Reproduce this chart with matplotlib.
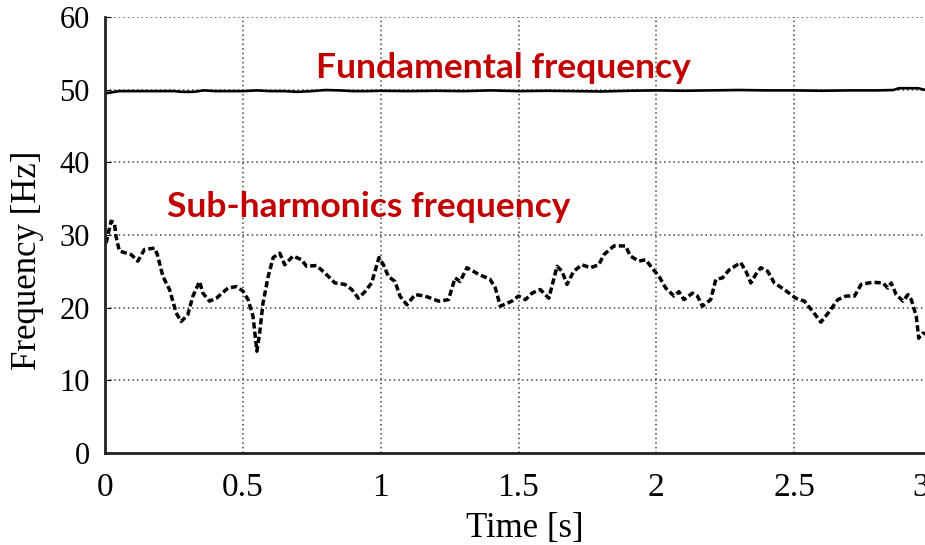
import numpy as np
import matplotlib
matplotlib.use('Agg')
import matplotlib.pyplot as plt
import matplotlib.transforms as mtransforms

# sub-harmonic frequency
sub_t = [0.004, 0.022, 0.034, 0.04, 0.052, 0.095, 0.119, 0.143, 0.18, 0.19,
         0.21, 0.234, 0.258, 0.276, 0.3, 0.319, 0.343, 0.355, 0.379, 0.404,
         0.446, 0.476, 0.5, 0.519, 0.537, 0.551, 0.561, 0.573, 0.592, 0.61,
         0.634, 0.652, 0.682, 0.713, 0.731, 0.767, 0.797, 0.834, 0.87, 0.895,
         0.919, 0.943, 0.967, 0.994, 1.01, 1.028, 1.052, 1.07, 1.095, 1.125,
         1.161, 1.21, 1.246, 1.27, 1.288, 1.313, 1.355, 1.397, 1.416, 1.434,
         1.476, 1.5, 1.525, 1.549, 1.579, 1.61, 1.64, 1.658, 1.676, 1.70,
         1.73, 1.761, 1.791, 1.81, 1.846, 1.888, 1.906, 1.937, 1.961, 1.99,
         2.01, 2.034, 2.064, 2.082, 2.10, 2.131, 2.149, 2.167, 2.197, 2.216,
         2.24, 2.264, 2.306, 2.325, 2.343, 2.361, 2.379, 2.404, 2.428, 2.464,
         2.506, 2.537, 2.567, 2.597, 2.628, 2.658, 2.688, 2.719, 2.743, 2.785,
         2.822, 2.84, 2.852, 2.87, 2.895, 2.913, 2.925, 2.943, 2.952, 2.967,
         2.985]
sub_f = [28.9, 31.9, 31.7, 29.8, 27.8, 27.3, 26.4, 28.0, 28.2, 27.3,
         24.3, 22.5, 19.3, 18.1, 19.0, 21.6, 23.6, 22.0, 20.9, 21.3,
         22.7, 22.9, 22.3, 21.1, 18.8, 14.0, 16.5, 20.6, 24.3, 26.9,
         27.5, 25.9, 27.1, 26.6, 25.7, 25.8, 24.8, 23.4, 23.2, 22.5,
         21.3, 22.2, 23.4, 26.9, 25.9, 24.3, 23.6, 21.6, 20.4, 21.8,
         21.6, 20.9, 21.1, 24.1, 23.6, 25.5, 24.6, 23.9, 22.7, 20.2,
         20.9, 21.6, 21.1, 22.0, 22.5, 21.3, 25.7, 25.0, 23.2, 25.0,
         25.9, 25.5, 25.9, 27.3, 28.5, 28.5, 27.1, 26.4, 26.6, 25.2,
         24.3, 22.7, 21.6, 22.2, 21.1, 22.0, 21.6, 20.2, 21.1, 23.9,
         24.1, 25.2, 26.2, 25.0, 23.4, 24.6, 25.5, 25.0, 23.4, 22.5,
         21.3, 20.9, 19.5, 18.0, 19.5, 21.1, 21.6, 21.6, 23.2, 23.5,
         23.4, 22.7, 23.4, 21.8, 20.9, 21.8, 21.1, 18.8, 15.8, 16.5,
         16.3]

# fundamental frequency
fund_t = [0, 0.02, 0.05, 0.1, 0.15, 0.2, 0.25, 0.28, 0.32, 0.36,
          0.4, 0.45, 0.5, 0.55, 0.6, 0.65, 0.7, 0.75, 0.8, 0.85,
          0.9, 0.95, 1.0, 1.1, 1.2, 1.3, 1.4, 1.5, 1.6, 1.7,
          1.8, 1.9, 2.0, 2.1, 2.2, 2.3, 2.4, 2.5, 2.6, 2.7,
          2.8, 2.86, 2.88, 2.95, 2.97, 3.0]
fund_f = [49.5, 49.6, 49.8, 49.8, 49.8, 49.8, 49.8, 49.7, 49.7, 49.9,
          49.8, 49.8, 49.8, 49.9, 49.8, 49.8, 49.7, 49.8, 49.95, 49.9,
          49.8, 49.8, 49.85, 49.8, 49.85, 49.8, 49.9, 49.8, 49.85, 49.8,
          49.75, 49.85, 49.9, 49.85, 49.9, 49.95, 49.9, 49.9, 49.85, 49.9,
          49.9, 49.95, 50.2, 50.2, 50.0, 50.0]

xticks = [0, 0.5, 1, 1.5, 2, 2.5, 3]
xlabels = ['0', '0.5', '1', '1.5', '2', '2.5', '3']
yticks = [0, 10, 20, 30, 40, 50, 60]

serif = ['Liberation Serif', 'DejaVu Serif']
sans = ['Lato', 'DejaVu Sans']
red = '#c00000'

fig = plt.figure(figsize=(9.25, 5.45), dpi=100)
# the right edge of the axes runs slightly past the picture, as in the source
ax = fig.add_axes([105/925, 92/545, 827/925, 436/545])

ax.plot(fund_t, fund_f, color='black', lw=1.9)
ax.plot(sub_t, sub_f, color='black', lw=2.5, linestyle=(0, (1.8, 0.9)))

ax.set_xlim(0, 3)
ax.set_ylim(0, 60)
ax.set_xticks(xticks)
ax.set_xticklabels(xlabels, family=serif, fontsize=24)
ax.set_yticks(yticks)
ax.set_yticklabels([str(v) for v in yticks], family=serif, fontsize=22)
ax.tick_params(axis='x', direction='in', length=0, pad=14)
ax.tick_params(axis='y', direction='in', length=4, pad=11)

# the last label sits a bit left of its tick in the source, partly cut off
last = ax.get_xticklabels()[-1]
last.set_transform(last.get_transform() +
                   mtransforms.ScaledTranslation(-11/100, 0, fig.dpi_scale_trans))

ax.grid(True, color='#444444', linestyle=(0, (1, 2)), lw=1.1)
for s in ['top', 'right']:
    ax.spines[s].set_visible(False)
for s in ['left', 'bottom']:
    ax.spines[s].set_linewidth(2)
    ax.spines[s].set_color('#222222')

ax.set_xlabel('Time [s]', family=serif, fontsize=25)
ax.xaxis.set_label_coords(0.508, -0.135)
ax.set_ylabel('Frequency [Hz]', family=serif, fontsize=25)
ax.yaxis.set_label_coords(-0.074, 0.443)

ax.text(1.444, 53.0, 'Fundamental frequency', color=red, fontsize=25.5,
        fontweight='bold', family=sans, ha='center', va='center')
ax.text(0.957, 33.9, 'Sub-harmonics frequency', color=red, fontsize=25.5,
        fontweight='bold', family=sans, ha='center', va='center')

fig.savefig('out.png', dpi=100)
